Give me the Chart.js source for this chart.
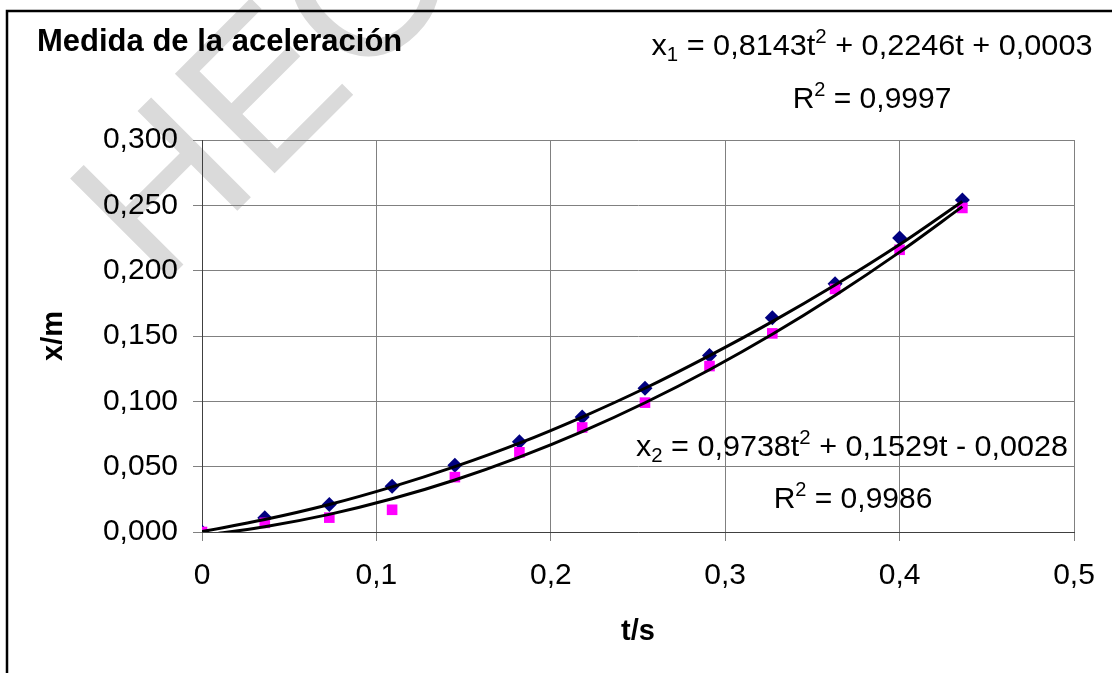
<!DOCTYPE html>
<html><head><meta charset="utf-8">
<script src="https://cdn.jsdelivr.net/npm/chart.js@4/dist/chart.umd.min.js"></script>
<style>html,body{margin:0;padding:0;background:#fff;}</style>
</head><body>
<canvas id="c" width="1112" height="673" style="display:block;width:1112px;height:673px"></canvas>
<script>
const timeS = [0, 0.036, 0.073, 0.109, 0.145, 0.182, 0.218, 0.254, 0.291, 0.327, 0.363, 0.400, 0.436];
const x1Values = [0.000, 0.011, 0.021, 0.035, 0.051, 0.069, 0.088, 0.110, 0.135, 0.164, 0.190, 0.225, 0.254];
const x2Values = [0.000, 0.007, 0.011, 0.017, 0.042, 0.061, 0.080, 0.099, 0.127, 0.152, 0.186, 0.216, 0.248];
const trend1Values = [0.0003, 0.0095, 0.021, 0.0345, 0.050, 0.068, 0.088, 0.110, 0.135, 0.161, 0.189, 0.220, 0.253];
const trend2Values = [-0.0028, 0.004, 0.0135, 0.0254, 0.0398, 0.0573, 0.0768, 0.0989, 0.1242, 0.1513, 0.181, 0.2142, 0.249];
const xTickValues = [0, 0.1, 0.2, 0.3, 0.4, 0.5];
const xTickLabels = ['0', '0,1', '0,2', '0,3', '0,4', '0,5'];
const yTickValues = [0, 0.05, 0.10, 0.15, 0.20, 0.25, 0.30];
const yTickLabels = ['0,000', '0,050', '0,100', '0,150', '0,200', '0,250', '0,300'];
const chartTitle = 'Medida de la aceleración';
const xAxisTitle = 't/s';
const yAxisTitle = 'x/m';
const watermarkText = 'HEO';
const eq1Parts = [['x', ''], ['1', 'sub'], [' = 0,8143t', ''], ['2', 'sup'], [' + 0,2246t + 0,0003', '']];
const r1Parts = [['R', ''], ['2', 'sup'], [' = 0,9997', '']];
const eq2Parts = [['x', ''], ['2', 'sub'], [' = 0,9738t', ''], ['2', 'sup'], [' + 0,1529t - 0,0028', '']];
const r2Parts = [['R', ''], ['2', 'sup'], [' = 0,9986', '']];

const FAM = '"Liberation Sans", Arial, sans-serif';

function drawRich(ctx, parts, cx, cy, targetW) {
  const big = 30, small = 20;
  let total = 0;
  const widths = parts.map(([t, m]) => {
    ctx.font = (m ? small : big) + 'px ' + FAM;
    const w = ctx.measureText(t).width;
    total += w;
    return w;
  });
  const sx = targetW ? targetW / total : 1;
  ctx.save();
  ctx.translate(cx - total * sx / 2, cy + 10.5);
  ctx.scale(sx, 1);
  ctx.fillStyle = '#000';
  ctx.textBaseline = 'alphabetic';
  ctx.textAlign = 'left';
  let x = 0;
  parts.forEach(([t, m], i) => {
    ctx.font = (m ? small : big) + 'px ' + FAM;
    const dy = m === 'sub' ? 6 : (m === 'sup' ? -12 : 0);
    ctx.fillText(t, x, dy);
    x += widths[i];
  });
  ctx.restore();
}

const decorPlugin = {
  id: 'decor',
  beforeDraw(chart) {
    const ctx = chart.ctx;
    ctx.save();
    ctx.translate(158, 290);
    ctx.rotate(-Math.PI / 4);
    ctx.font = '205px ' + FAM;
    ctx.fillStyle = '#dadada';
    ctx.textBaseline = 'alphabetic';
    ctx.fillText(watermarkText, 0, 0);
    ctx.restore();
    ctx.save();
    ctx.strokeStyle = '#000';
    ctx.lineWidth = 2.5;
    ctx.beginPath();
    ctx.moveTo(7, 673);
    ctx.lineTo(7, 11);
    ctx.lineTo(1112, 11);
    ctx.stroke();
    ctx.restore();
  },
  afterDraw(chart) {
    const ctx = chart.ctx;
    ctx.save();
    ctx.font = 'bold 31px ' + FAM;
    ctx.fillStyle = '#000';
    ctx.textBaseline = 'alphabetic';
    ctx.textAlign = 'left';
    ctx.fillText(chartTitle, 37, 51);
    ctx.restore();
    drawRich(ctx, eq1Parts, 872, 44, 441);
    drawRich(ctx, r1Parts, 872, 97, null);
    drawRich(ctx, eq2Parts, 852, 445, 432);
    drawRich(ctx, r2Parts, 853, 497, null);
  }
};

const pts = arr => timeS.map((t, i) => ({x: t, y: arr[i]}));

new Chart(document.getElementById('c'), {
  type: 'scatter',
  data: {
    datasets: [
      {label: 'x1 tendencia', data: pts(trend1Values), showLine: true, borderColor: '#000', borderWidth: 3,
       pointRadius: 0, cubicInterpolationMode: 'monotone', order: 0},
      {label: 'x2 tendencia', data: pts(trend2Values), showLine: true, borderColor: '#000', borderWidth: 3,
       pointRadius: 0, cubicInterpolationMode: 'monotone', order: 0},
      {label: 'x1', data: pts(x1Values), pointStyle: 'rectRot', pointRadius: 7.5, backgroundColor: '#000080',
       borderColor: '#000080', borderWidth: 0, order: 2},
      {label: 'x2', data: pts(x2Values), pointStyle: 'rect', pointRadius: 7.5, backgroundColor: '#ff00ff',
       borderColor: '#ff00ff', borderWidth: 0, order: 1}
    ]
  },
  options: {
    responsive: false,
    devicePixelRatio: 1,
    animation: false,
    layout: {padding: {top: 140, right: 38, left: 0, bottom: 0}},
    plugins: {legend: {display: false}, tooltip: {enabled: false}, title: {display: false}},
    scales: {
      x: {
        type: 'linear', min: 0, max: 0.5,
        afterBuildTicks: s => { s.ticks = xTickValues.map(v => ({value: v})); },
        afterFit: s => { s.height = 141; },
        ticks: {callback: (v, i) => xTickLabels[i], font: {family: FAM, size: 30}, color: '#000',
                padding: 17, maxRotation: 0, autoSkip: false},
        grid: {color: '#808080', lineWidth: 1, tickLength: 9, tickColor: '#808080'},
        border: {color: '#404040', width: 1},
        title: {display: true, text: xAxisTitle, color: '#000', font: {family: FAM, size: 29, weight: 'bold'},
                padding: {top: 0, bottom: 23.6}}
      },
      y: {
        type: 'linear', min: 0, max: 0.3,
        afterBuildTicks: s => { s.ticks = yTickValues.map(v => ({value: v})); },
        afterFit: s => { s.width = 202; },
        ticks: {callback: (v, i) => yTickLabels[i], font: {family: FAM, size: 30}, color: '#000',
                padding: 15, autoSkip: false},
        grid: {color: '#808080', lineWidth: 1, tickLength: 9, tickColor: '#808080'},
        border: {color: '#404040', width: 1},
        title: {display: true, text: yAxisTitle, color: '#000', font: {family: FAM, size: 29, weight: 'bold'},
                padding: {top: 36.6, bottom: 0}}
      }
    }
  },
  plugins: [decorPlugin]
});
</script>
</body></html>
